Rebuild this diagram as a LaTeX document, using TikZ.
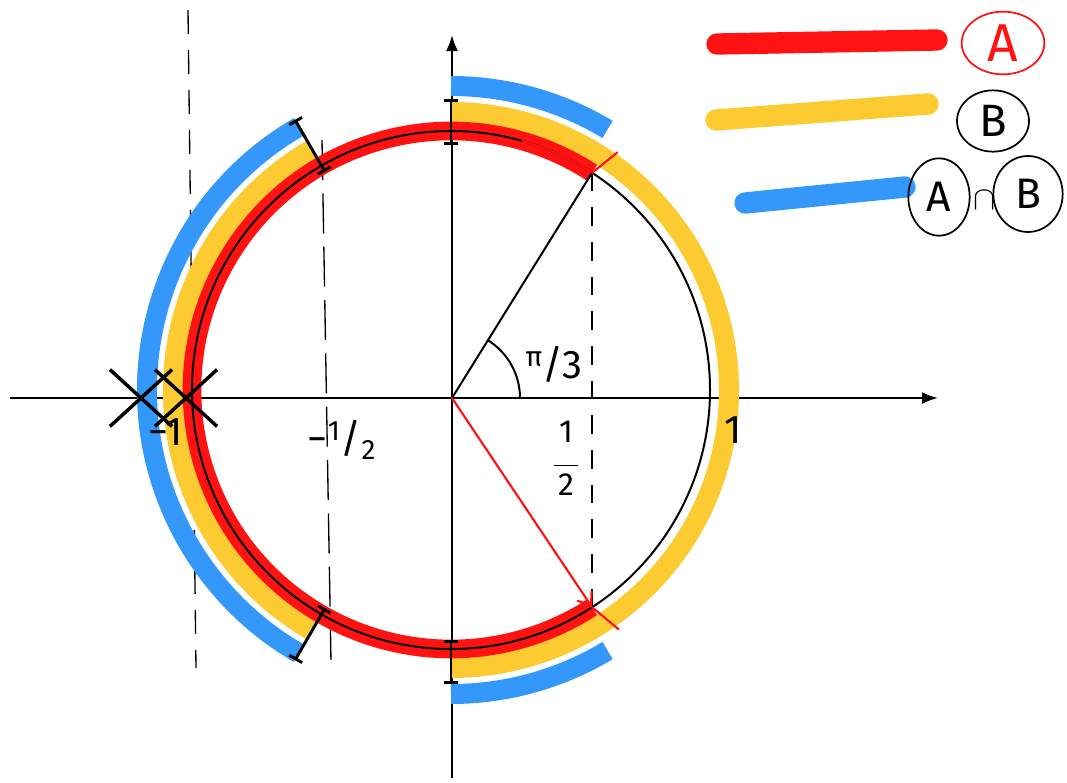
\documentclass[tikz,border=0pt]{standalone}
\usepackage{fontspec}
\setmainfont{Fira Sans}
\usetikzlibrary{arrows.meta,calc,shapes.geometric,shapes.misc}
\definecolor{redA}{RGB}{255,18,18}
\definecolor{yelB}{RGB}{252,203,50}
\definecolor{bluAB}{RGB}{52,152,250}

\begin{document}
\begin{tikzpicture}[
  x=0.75pt,y=-0.75pt,
  ax/.style   ={line width=1.6pt,-{Latex[length=12pt,width=9pt]}},
  ln/.style   ={line width=1.5pt},
  rd/.style   ={draw=redA,line width=1.6pt,line cap=round},
  bandA/.style={draw=redA,line width=14pt},
  bandB/.style={draw=yelB,line width=15pt},
  bandAB/.style={draw=bluAB,line width=15pt},
  bar/.style  ={line width=16pt,line cap=round},
  dsh/.style  ={line width=1pt,dash pattern=on 18pt off 12pt},
  brk/.style  ={line width=2.2pt,{Bar[width=11pt]}-{Bar[width=11pt]}},
  xm/.style   ={draw,cross out,line width=2.6pt,minimum width=44pt,minimum height=40pt},
  lb/.style   ={inner sep=0pt,font=\fontsize{30}{32}\selectfont},
  key/.style  ={draw,ellipse,line width=1.3pt,inner sep=0pt}
]
\useasboundingbox (0,0) rectangle (1067,782);

% ======== frame points
\coordinate (O) at (452,398);
\coordinate (C) at (451,390);
\coordinate (P) at ($(C)+(-57:259)$);
\coordinate (Q) at ($(C)+(57:259)$);

% ======== dashed guides
\coordinate (g1t) at (188,10);   \coordinate (g1b) at (196,668);
\coordinate (g2t) at (322,140);  \coordinate (g2b) at (331,662);
\draw[dsh] (g1t) -- (g1b);
\draw[dsh,dash pattern=on 30pt off 10pt] (g2t) -- (g2b);
\draw[dsh,dash pattern=on 14pt off 12pt] (P) -- ++(0,455);

% ======== axes
\coordinate (xl) at (10,398);  \coordinate (xr) at (938,398);
\coordinate (yb) at (452,778); \coordinate (yt) at (452,35);
\draw[ax] (xl) -- (xr);
\draw[ax] (yb) -- (yt);

% ======== A /\ B (blue), B (yellow), A (red)
\draw[bandAB] ($(C)+(-59:304)$)  arc[start angle=-59, end angle=-90, radius=304];
\draw[bandAB] ($(C)+(-120:304)$) arc[start angle=-120,end angle=-240,radius=304];
\draw[bandAB] ($(C)+(-270:304)$) arc[start angle=-270,end angle=-301,radius=304];
\draw[bandB]  ($(C)+(90:278)$)   arc[start angle=90,  end angle=-90, radius=278];
\draw[bandB]  ($(C)+(-120:278)$) arc[start angle=-120,end angle=-240,radius=278];
\draw[bandA]  (P) arc[start angle=-57,end angle=-303,radius=259];

% ======== unit circle, radii, angle
\draw[ln] (C) circle[radius=259];
\draw[ln] (O) -- (P);
\draw[rd,-{Straight Barb[length=9pt,width=13pt]}] (O) -- (Q);
\draw[rd,-{Straight Barb[length=9pt,width=13pt]}]
  ($(C)+(-74:259)$) arc[start angle=-74,end angle=-57,radius=259];
\draw[rd] (P) -- ($(C)+(-55:290)$);
\draw[rd] (Q) -- ($(C)+(55:292)$);
\draw[ln] ($(O)+(68,0)$) arc[start angle=0,end angle=-58,radius=68];

% ======== interval ends
\draw[brk] ($(C)+(-120:252)$) -- ($(C)+(-120:312)$);
\draw[brk] ($(C)+(120:252)$)  -- ($(C)+(120:312)$);
\draw[brk] ($(C)+(-90:245)$)  -- ($(C)+(-90:291)$);
\draw[brk] ($(C)+(90:250)$)   -- ($(C)+(90:294)$);
\node[xm] (x1) at (141,398) {};
\node[xm] (x2) at (186,398) {};

% ======== labels
\node[lb] (m1)  at (166,432) {−1};
\node[lb] (mh)  at (342,440) {−\textsuperscript{1}/\textsubscript{2}};
\node[lb,font=\fontsize{24}{24}\selectfont,align=center] (h)
  at (566,458) {1\\[-6pt]\rule{18pt}{1pt}\\[-2pt]2};
\node[lb] (one) at (733,430) {1};
\node[lb] (ang) at (554,364) {\textsuperscript{π}/3};

% ======== legend
\coordinate (ra) at (717,44);  \coordinate (rb) at (937,40);
\coordinate (ya) at (716,120); \coordinate (yb2) at (928,104);
\coordinate (ba) at (745,203); \coordinate (bb) at (905,187);
\draw[bar,redA]  (ra) -- (rb);
\draw[bar,yelB]  (ya) -- (yb2);
\draw[bar,bluAB] (ba) -- (bb);
\node[key,draw=redA,text=redA,minimum width=62pt,minimum height=47pt,
      font=\fontsize{40}{40}\selectfont] (kA) at (1003,43) {A};
\node[key,minimum width=54pt,minimum height=46pt,
      font=\fontsize{34}{34}\selectfont] (kB) at (993,121) {B};
\node[key,minimum width=46pt,minimum height=58pt,
      font=\fontsize{32}{32}\selectfont] (kA2) at (939,197) {A};
\node[key,minimum width=52pt,minimum height=57pt,
      font=\fontsize{32}{32}\selectfont] (kB2) at (1028,194) {B};
\node[inner sep=0pt,font=\fontsize{34}{34}\selectfont] (cap) at (985,200) {$\cap$};
\end{tikzpicture}
\end{document}
